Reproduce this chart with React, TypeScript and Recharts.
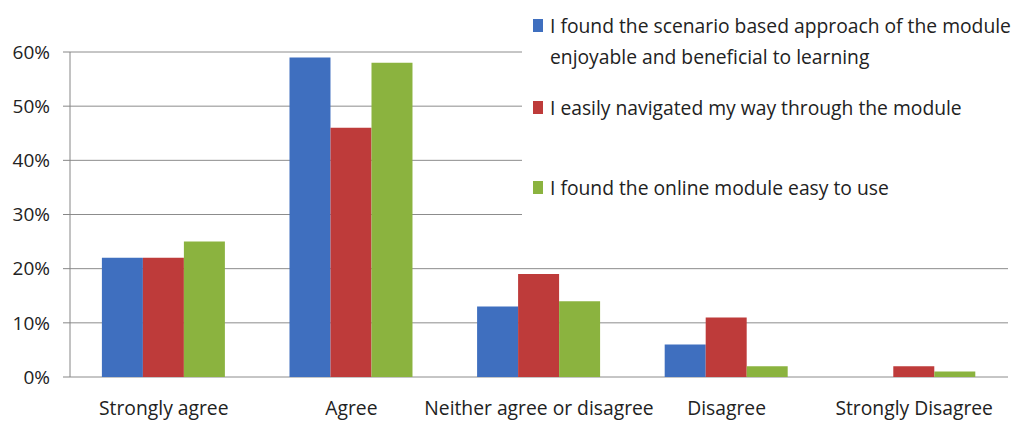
import React from 'react';
import { BarChart, Bar, XAxis, YAxis, CartesianGrid, Legend } from 'recharts';

const categories = ['Strongly agree', 'Agree', 'Neither agree or disagree', 'Disagree', 'Strongly Disagree'];
const scenarioValues = [22, 59, 13, 6, 0];
const navigatedValues = [22, 46, 19, 11, 2];
const easyValues = [25, 58, 14, 2, 1];
const yTicks = [0, 10, 20, 30, 40, 50, 60];
const edgeTicks = [0, 1, 2, 3, 4, 5];

const seriesNames = [
  'I found the scenario based approach of the module enjoyable and beneficial to learning',
  'I easily navigated my way through the module',
  'I found the online module easy to use',
];
const colors = ['#3f6fbf', '#be3b3a', '#8bb33f'];

const data = categories.map((c, i) => ({
  category: c,
  scenario: scenarioValues[i],
  navigated: navigatedValues[i],
  easy: easyValues[i],
}));

const font = '"Open Sans", sans-serif';

function LegendBox() {
  const tops = [10, 92, 172];
  return (
    <div style={{ position: 'relative', width: 497, height: 218, background: '#fff', fontFamily: font, fontSize: 19.3, color: '#222' }}>
      {seriesNames.map((name, i) => (
        <div key={name} style={{ position: 'absolute', left: 11, top: tops[i], display: 'flex', alignItems: 'flex-start' }}>
          <span style={{ display: 'inline-block', width: 10, height: 13, background: colors[i], marginTop: 9, marginRight: 7 }} />
          <span style={{ width: 475, lineHeight: '31px' }}>{name}</span>
        </div>
      ))}
    </div>
  );
}

export default function App() {
  return (
    <div style={{ position: 'absolute', left: 0, top: 0, width: 1019, height: 426, background: '#fff' }}>
      <BarChart
        width={1019}
        height={426}
        data={data}
        margin={{ top: 52, right: 11, bottom: 0, left: 0 }}
        barCategoryGap="17%"
        barGap={0}
      >
        <CartesianGrid vertical={false} stroke="#8c8c8c" />
        <XAxis
          xAxisId="edges"
          type="number"
          domain={[0, 5]}
          ticks={edgeTicks}
          allowDataOverflow
          height={0}
          tickSize={7}
          tickFormatter={() => ''}
          stroke="#868686"
        />
        <XAxis
          dataKey="category"
          height={49}
          axisLine={false}
          tickLine={false}
          tickSize={6}
          tickMargin={18}
          interval={0}
          tick={{ fill: '#222', fontSize: 19.3, fontFamily: font }}
        />
        <YAxis
          width={70}
          domain={[0, 60]}
          ticks={yTicks}
          tickFormatter={(v) => `${v}%`}
          tickSize={7}
          tickMargin={13}
          stroke="#868686"
          tick={{ fill: '#222', fontSize: 19, fontFamily: font }}
        />
        <Legend
          verticalAlign="middle"
          align="center"
          content={() => <LegendBox />}
          wrapperStyle={{ position: 'absolute', left: 522, top: 0, width: 497, height: 218 }}
        />
        <Bar dataKey="scenario" name={seriesNames[0]} fill={colors[0]} isAnimationActive={false} />
        <Bar dataKey="navigated" name={seriesNames[1]} fill={colors[1]} isAnimationActive={false} />
        <Bar dataKey="easy" name={seriesNames[2]} fill={colors[2]} isAnimationActive={false} />
      </BarChart>
    </div>
  );
}
